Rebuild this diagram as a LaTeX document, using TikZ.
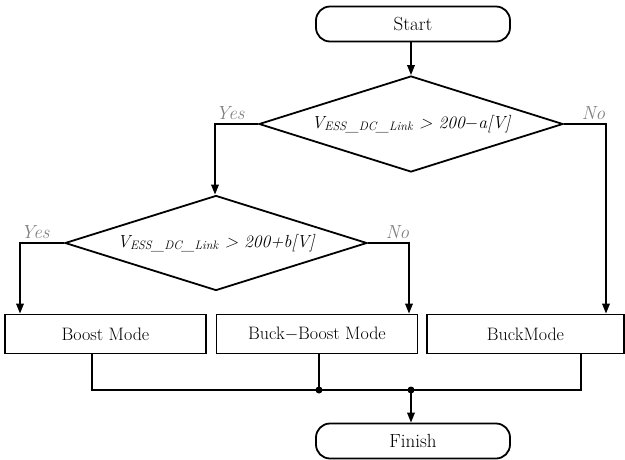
\documentclass[tikz,border=0pt]{standalone}
\usepackage{fontspec}
\usetikzlibrary{shapes.geometric,arrows.meta,calc}
\begin{document}
\begin{tikzpicture}[x=1pt,y=-1pt,
  line width=1.8pt,
  arr/.style={-{Triangle[length=10pt,width=7.5pt]}},
  term/.style={draw,rounded corners=14pt,minimum width=194pt,minimum height=35pt,inner sep=0pt,font=\fontsize{19}{22}\selectfont},
  modebox/.style={draw,minimum width=201pt,minimum height=39pt,inner sep=0pt,font=\fontsize{18}{21}\selectfont},
  dec/.style={draw,diamond,aspect=3.17,minimum width=304pt,minimum height=96pt,inner sep=0pt,font=\fontsize{17.5}{20}\selectfont\itshape},
  lab/.style={text=gray,font=\fontsize{19}{21}\selectfont\itshape,inner sep=0pt},
  dot/.style={circle,fill,inner sep=0pt,minimum size=7pt}]
\useasboundingbox (0,0) rectangle (625,459);
\node[term] (start) at (413,24) {Start};
\node[dec] (d1) at (411,124) {V$_{\mathit{ESS\_DC\_Link}}$ {>} 200$-$a[V]};
\node[dec,minimum width=302pt,minimum height=95pt] (d2) at (216,243) {V$_{\mathit{ESS\_DC\_Link}}$ {>} 200+b[V]};
\node[modebox] (boost) at (105.5,334) {Boost Mode};
\node[modebox] (bb) at (317,334) {Buck$-$Boost Mode};
\node[modebox,minimum width=197pt] (buck) at (525.5,334) {BuckMode};
\node[term] (finish) at (413,441) {Finish};
\coordinate (r1) at (606,124);
\coordinate (l1) at (215,124);
\coordinate (r2) at (409,243);
\coordinate (l2) at (20,243);
\coordinate (j1) at (319,390);
\coordinate (j2) at (411,390);
\draw[arr] (d1.north |- start.south) -- (d1.north);
\draw[arr] (d1.west) -- (l1) -- (l1 |- d2.north);
\draw[arr] (d1.east) -- (r1) -- (r1 |- buck.north);
\draw[arr] (d2.west) -- (l2) -- (l2 |- boost.north);
\draw[arr] (d2.east) -- (r2) -- (r2 |- bb.north);
\node[lab,anchor=south west] at ([yshift=3pt]l1) {Yes};
\node[lab,anchor=south east] at ([yshift=3pt]r1) {No};
\node[lab,anchor=south west] at ([yshift=3pt]l2) {Yes};
\node[lab,anchor=south east] at ([yshift=3pt,xshift=1pt]r2) {No};
\draw (boost.south -| 92,0) |- (j1) -- (j2) -| (buck.south -| 581,0);
\draw (bb.south -| j1) -- (j1);
\node[dot] at (j1) {};
\node[dot] at (j2) {};
\draw[arr] (j2) -- (finish.north -| j2);
\end{tikzpicture}
\end{document}
